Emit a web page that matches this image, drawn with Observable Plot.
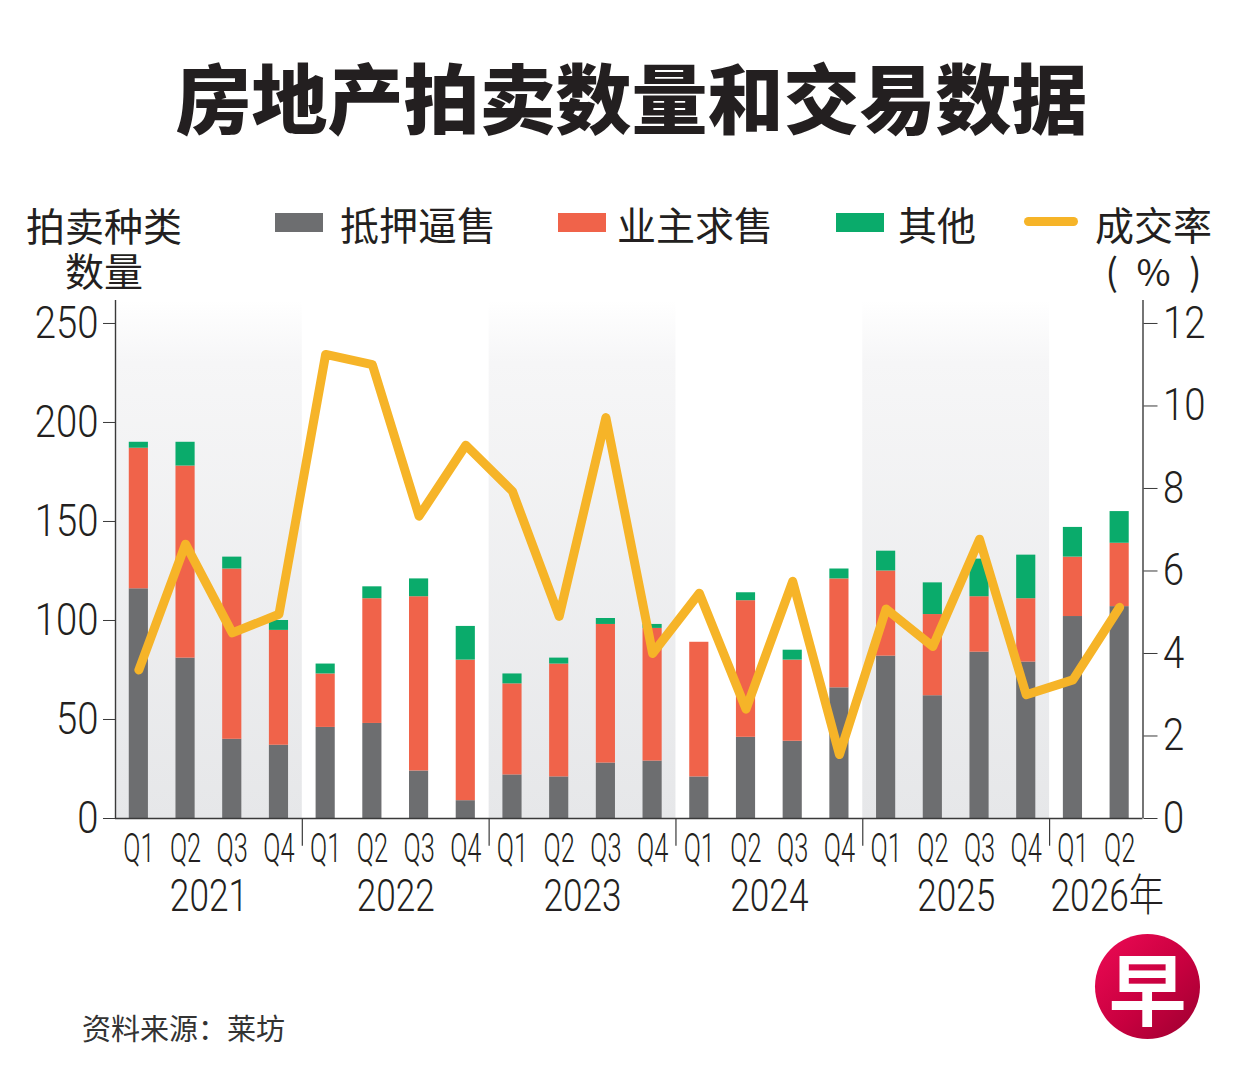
<!DOCTYPE html>
<html><head><meta charset="utf-8">
<script src="https://cdn.jsdelivr.net/npm/d3@7"></script>
<script src="https://cdn.jsdelivr.net/npm/@observablehq/plot@0.6"></script>
<style>
html,body{margin:0;padding:0;background:#fff}
body{width:1251px;height:1091px;position:relative;overflow:hidden;font-family:"Noto Sans CJK SC","Noto Sans",sans-serif;color:#231f20}
.abs{position:absolute;white-space:nowrap}
#title{left:6px;width:1251px;text-align:center;top:57px;font-size:76px;line-height:76px;font-weight:900}
.lg{font-size:39px;line-height:39px;top:204px}
.sw{position:absolute;width:48px;height:19px;top:213px}
#chart{position:absolute;left:0;top:280px}
#logo{position:absolute;left:1095px;top:934px;width:105px;height:105px;border-radius:50%;background:linear-gradient(135deg,#ee0a55 0%,#c8003f 55%,#9c0030 100%);color:#fff;text-align:center;font-size:78px;line-height:105px;font-weight:700}
</style></head><body>
<div id="title" class="abs">房地产拍卖数量和交易数据</div>
<div class="abs" style="left:25px;top:205px;width:158px;text-align:center;font-size:39px;line-height:39px">拍卖种类</div>
<div class="abs" style="left:25px;top:250px;width:158px;text-align:center;font-size:39px;line-height:39px">数量</div>
<div id="legend"></div>
<div id="chart"></div>
<div class="abs" style="left:82px;top:1013px;font-size:29px;line-height:29px;color:#333">资料来源：莱坊</div>
<div id="logo">早</div>
<script>
// ---- data ----
const years = ["2021","2022","2023","2024","2025","2026"];
const quarters = ["Q1","Q2","Q3","Q4","Q1","Q2","Q3","Q4","Q1","Q2","Q3","Q4","Q1","Q2","Q3","Q4","Q1","Q2","Q3","Q4","Q1","Q2"];
const foreclosure = [116,81,40,37, 46,48,24,9, 22,21,28,29, 21,41,39,66, 82,62,84,79, 102,107];
const ownerSale   = [71,97,86,58, 27,63,88,71, 46,57,70,67, 68,69,41,55, 43,41,28,32, 30,32];
const others      = [3,12,6,5, 5,6,9,17, 5,3,3,2, 0,4,5,5, 10,16,19,22, 15,16];
const rate        = [3.6,6.65,4.5,4.95, 11.25,11.0,7.33,9.05, 7.93,4.9,9.72,4.0, 5.46,2.65,5.75,1.55, 5.08,4.17,6.77,3.0, 3.36,5.12];
const seriesNames = ["抵押逼售","业主求售","其他"];
const seriesColors = ["#6d6e70","#f0634a","#0aab6b"];
const rateName = "成交率";
const rateUnit = "(\u2002%\u2002)";
const rateColor = "#f6b428";
const leftTicks = [0,50,100,150,200,250];
const rightTicks = [0,2,4,6,8,10,12];

// ---- legend ----
const legendPos = [
  {sw:275, tx:340}, {sw:558, tx:617}, {sw:836, tx:898}
];
const lg = document.getElementById("legend");
seriesNames.forEach((n,i)=>{
  const s=document.createElement("div");s.className="sw";s.style.left=legendPos[i].sw+"px";s.style.background=seriesColors[i];lg.appendChild(s);
  const t=document.createElement("div");t.className="abs lg";t.style.left=legendPos[i].tx+"px";t.textContent=n;lg.appendChild(t);
});
{
  const s=document.createElement("div");s.style.cssText="position:absolute;left:1024px;top:217px;width:54px;height:9px;border-radius:5px;background:"+rateColor;lg.appendChild(s);
  const t=document.createElement("div");t.className="abs lg";t.style.left="1095px";t.textContent=rateName;lg.appendChild(t);
  const p=document.createElement("div");p.className="abs";p.style.cssText="left:1095px;width:117px;text-align:center;top:252px;font-size:37px;line-height:37px";p.textContent=rateUnit;lg.appendChild(p);
}

// ---- derived tables ----
const k = 250/12;
const rows = quarters.map((q,i)=>({i, q, year: years[Math.floor(i/4)], rate: rate[i]}));
const stacked = [];
rows.forEach(r=>{
  let base = 0;
  [foreclosure, ownerSale, others].forEach((arr,s)=>{
    const v = arr[r.i];
    stacked.push({i:r.i, type:seriesNames[s], y1:base, y2:base+v});
    base += v;
  });
});
const yearInfo = years.map((y,j)=>{
  const idx = rows.filter(r=>r.year===y).map(r=>r.i);
  return {year:y, start:d3.min(idx), end:d3.max(idx), shaded: j%2===0};
});
const boundaries = yearInfo.slice(1).map(d=>d.start-0.5);

const chart = Plot.plot({
  width: 1251,
  height: 650,
  marginLeft: 115,
  marginRight: 108.5,
  marginTop: 20,
  marginBottom: 112,
  style: {fontFamily: 'Roboto,"Liberation Sans","Noto Sans CJK SC",sans-serif', fontWeight: 300, color:"#231f20", background:"transparent", overflow:"visible"},
  x: {type:"linear", domain:[-0.5, 21.5], axis:null},
  y: {domain:[0, 261.6]},
  color: {domain: seriesNames, range: seriesColors},
  marks: [
    Plot.rect(yearInfo.filter(d=>d.shaded), {x1: d=>d.start-0.5, x2: d=>d.end+0.5, fill:"url(#bandGrad)"}),
    Plot.rect(stacked, {x1: d=>d.i-0.205, x2: d=>d.i+0.205, y1:"y1", y2:"y2", fill:"type"}),
    Plot.line(rows, {x:"i", y: d=>d.rate*k, stroke: rateColor, strokeWidth: 9, strokeLinejoin:"round", strokeLinecap:"round"}),
    Plot.ruleX([-0.5, 21.5], {stroke:"#3a3a3a", strokeWidth:1.4}),
    Plot.ruleY([0], {stroke:"#3a3a3a", strokeWidth:1.4}),
    Plot.ruleX(boundaries, {y1:0, y2:-14, stroke:"#3a3a3a", strokeWidth:1.2}),
    Plot.axisY({anchor:"left", ticks: leftTicks, tickSize:12, tickPadding:5, fontSize:44, stroke:"#3a3a3a", label:null}),
    Plot.axisY({anchor:"right", ticks: rightTicks.map(v=>v*k), tickFormat: d=>String(Math.round(d/k)), tickSize:14, tickPadding:6, fontSize:44, stroke:"#3a3a3a", label:null}),
    Plot.text(rows, {x:"i", y:0, text:"q", dy:30, fontSize:41, lineAnchor:"middle", fill:"#231f20"}),
    Plot.text(yearInfo.filter(d=>d.end-d.start===3), {x: d=>(d.start+d.end)/2, y:0, text:"year", dy:78, fontSize:44, lineAnchor:"middle", fill:"#231f20"}),
    Plot.text(yearInfo.filter(d=>d.end-d.start!==3), {x: d=>d.start-0.5, y:0, text: d=>d.year+"年", dy:78, dx:1, textAnchor:"start", fontSize:44, lineAnchor:"middle", fill:"#231f20"})
  ]
});
document.getElementById("chart").appendChild(chart);
const svg = d3.select(chart);
svg.insert("defs", ":first-child").html(
  '<linearGradient id="bandGrad" x1="0" y1="0" x2="0" y2="1">' +
  '<stop offset="0" stop-color="#ffffff"/><stop offset="0.12" stop-color="#f6f6f7"/>' +
  '<stop offset="1" stop-color="#e6e7e9"/></linearGradient>');
function squeeze(re, f){
  svg.selectAll("text").filter(function(){return re.test(this.textContent);}).each(function(){
    const L = this.getComputedTextLength();
    this.setAttribute("textLength", (L*f).toFixed(1));
    this.setAttribute("lengthAdjust","spacingAndGlyphs");
  });
}
squeeze(/^Q\d$/, 0.62);
squeeze(/^20\d\d/, 0.8);
squeeze(/^\d{1,3}$/, 0.87);
</script>
</body></html>
